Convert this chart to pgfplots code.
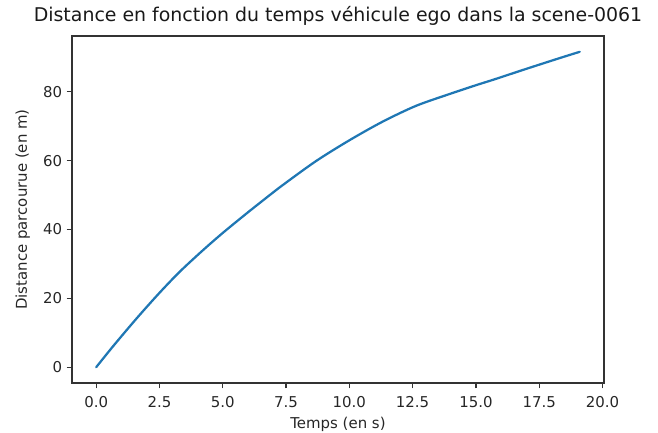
\documentclass[border=0pt]{standalone}
\usepackage{pgfplots}
\pgfplotsset{compat=1.18}
\usepackage{fontspec}
\setmainfont{DejaVu Sans}
\definecolor{mplblue}{HTML}{1F77B4}
\definecolor{axgray}{HTML}{333333}
\begin{document}
\begin{tikzpicture}[x=1bp,y=1bp]
\path[use as bounding box] (-72bp,-50bp) rectangle (586bp,383bp);
\begin{axis}[
  at={(0,0)}, anchor=south west,
  scale only axis,
  width=532bp, height=347bp,
  xmin=-0.955, xmax=20.06,
  ymin=-4.58, ymax=96.2,
  xtick={0,2.5,...,20},
  ytick={0,20,40,60,80},
  xticklabel style={/pgf/number format/.cd,fixed,fixed zerofill,precision=1},
  /pgf/number format/assume math mode=true,
  tick label style={font=\fontsize{15}{18}\selectfont, text=black!85},
  label style={font=\fontsize{15}{18}\selectfont, text=black!85},
  title style={font=\fontsize{19}{22}\selectfont, text=black!90, at={(0.5,1)}, anchor=base, yshift=8.5bp},
  title={Distance en fonction du temps véhicule ego dans la scene-0061},
  xlabel={Temps (en s)},
  ylabel={Distance parcourue (en m)},
  xlabel style={at={(0.5,0)}, anchor=base, yshift=-45bp},
  tick align=outside,
  tick pos=left,
  major tick length=5.25bp,
  every tick/.style={axgray, line width=1.2bp},
  axis line style={axgray, line width=1.2bp},
  xticklabel shift=5bp,
  yticklabel shift=1bp,
  ylabel shift=6.5bp,
]
\addplot[mplblue, line width=2.25bp, line join=round, line cap=round, smooth, tension=0.5] coordinates {
(0,0) (0.68,6.2) (1.6,14.2) (2.5,21.6) (3.31,27.8) (4.22,34.0) (5.0,39.0)
(5.93,44.6) (6.65,48.8) (7.37,52.9) (8.69,59.9) (10.0,65.9) (11.31,71.3)
(12.63,75.9) (13.94,79.3) (15.0,81.9) (15.73,83.6) (17.05,86.8) (18.36,89.9) (19.1,91.6)
};
\end{axis}
\end{tikzpicture}
\end{document}
